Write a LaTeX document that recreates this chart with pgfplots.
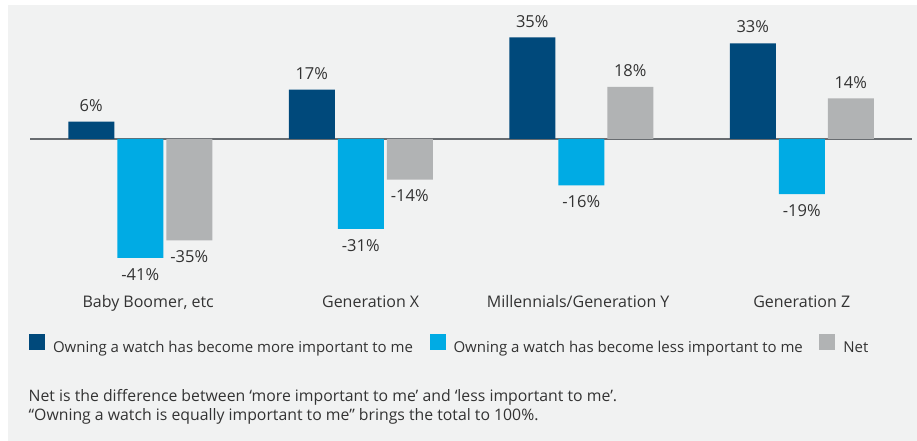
\documentclass[border=0pt]{standalone}
\usepackage{fontspec}
\setmainfont{Open Sans}
\usepackage{pgfplots}
\pgfplotsset{compat=1.18}
\usepackage{pgfplotstable}
\definecolor{dblue}{RGB}{0,73,123}
\definecolor{lblue}{RGB}{0,171,228}
\definecolor{ngray}{RGB}{177,179,180}
\definecolor{panel}{RGB}{241,242,242}
\definecolor{zline}{RGB}{104,108,112}
\definecolor{txt}{RGB}{51,51,51}

\pgfplotstableread{
x more less net
0 6 -41 -35
1 17 -31 -14
2 35 -16 18
3 33 -19 14
}\datatable

\pgfplotsset{sqlegend/.style={legend image code/.code={\fill[##1] (0pt,-2.3pt) rectangle (16pt,13.7pt);}}}

\begin{document}
\begin{tikzpicture}
\fill[white] (0pt,0pt) rectangle (917pt,441pt);
\fill[panel] (8pt,0pt) rectangle (917pt,436pt);
\begin{axis}[
  at={(30pt,157pt)}, anchor=south west,
  scale only axis, width=882pt, height=275.5pt,
  xmin=-0.5, xmax=3.5, ymin=-50, ymax=45,
  ybar=3pt, bar width=46pt,
  axis line style={draw=none},
  major tick length=0pt,
  ytick=\empty,
  xtick={0.036,1.045,1.986,3},
  xticklabels={{Baby Boomer, etc},{Generation X},{Millennials/Generation Y},{Generation Z}},
  xticklabel style={font=\fontsize{16}{19}\selectfont, text=txt, anchor=base, yshift=-23.7pt},
  extra y ticks={0}, extra y tick labels={},
  extra y tick style={grid=major, major grid style={draw=zline, line width=1.5pt}},
  point meta=y,
  nodes near coords={\pgfmathprintnumber[assume math mode=true,fixed,precision=0]{\pgfplotspointmeta}\%},
  nodes near coords align={vertical},
  every node near coord/.append style={font=\fontsize{16.5}{20}\selectfont, text=txt, inner ysep=10pt, inner xsep=0pt},
  legend columns=3,
  legend style={at={(-0.00113,-0.2178)}, anchor=west, draw=none, fill=none,
    inner sep=0pt, outer sep=0pt,
    nodes={inner xsep=0pt, inner ysep=0pt, font=\fontsize{15}{18}\selectfont, text=txt},
    /tikz/every odd column/.append style={column sep=8pt},
    /tikz/every even column/.append style={column sep=16.5pt}},
]
\addplot[fill=dblue, draw=none, sqlegend] table[x=x, y=more] {\datatable};
\addlegendentry{Owning a watch has become more important to me}
\addplot[fill=lblue, draw=none, sqlegend] table[x=x, y=less] {\datatable};
\addlegendentry{Owning a watch has become less important to me}
\addplot[fill=ngray, draw=none, sqlegend] table[x=x, y=net] {\datatable};
\addlegendentry{Net}
\end{axis}
\node[anchor=base west, inner sep=0pt, font=\fontsize{15.8}{19}\selectfont, text=txt] at (28.5pt,39.4pt) {Net is the difference between ‘more important to me’ and ‘less important to me’.};
\node[anchor=base west, inner sep=0pt, font=\fontsize{15.8}{19}\selectfont, text=txt] at (28.5pt,20.4pt) {“Owning a watch is equally important to me” brings the total to 100\%.};
\pgfresetboundingbox
\useasboundingbox (0pt,0pt) rectangle (917pt,441pt);
\end{tikzpicture}
\end{document}
